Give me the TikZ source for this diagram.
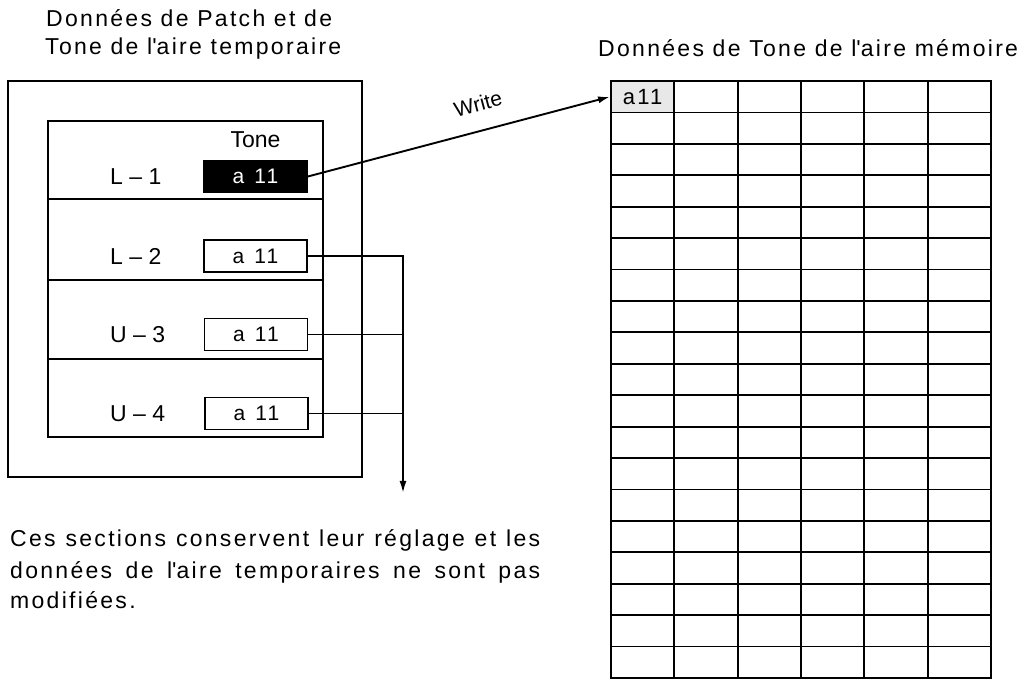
\documentclass[tikz,border=0pt]{standalone}
\usepackage{fontspec}
\setmainfont{Liberation Sans}
\newfontfamily\spfont[LetterSpace=10]{Liberation Sans}
\newfontfamily\plfont{Liberation Sans}
\usetikzlibrary{arrows.meta}
\begin{document}
\begin{tikzpicture}[x=1pt,y=-1pt,
  ttl/.style={font=\spfont\fontsize{23}{26}\selectfont, inner sep=0, anchor=base west},
  lab/.style={font=\plfont\fontsize{23}{26}\selectfont, inner sep=0, anchor=base west},
  frame/.style={draw, line width=1.8pt},
  tbox/.style={draw, line width=1.8pt, minimum width=103pt, minimum height=32pt, inner sep=0, font=\spfont\fontsize{21}{24}\selectfont},
  cell/.style={draw, line width=1.8pt, minimum width=63.33pt, minimum height=31.42pt, inner sep=0, font=\spfont\fontsize{22}{24}\selectfont},
  conn/.style={line width=1.9pt},
  arr/.style={-{Latex[length=12pt,width=7pt]}}
]
\useasboundingbox (0,0) rectangle (1026,684);

% titles
\node[ttl] (t1) at (46,26.5) {Données de Patch et de};
\node[ttl] (t2) at (45,55) {Tone de l\textquotesingle aire temporaire};
\node[ttl] (t3) at (598,56.5) {Données de Tone de l\textquotesingle aire mémoire};

% left frames
\draw[frame] (8,81) rectangle (362,477);
\draw[frame] (48,121) rectangle (323,437);
\draw[frame] (48,199) -- (323,199);
\draw[frame] (48,280) -- (323,280);
\draw[frame] (48,359) -- (323,359);

% labels
\node[lab,anchor=base] (tone) at (255.5,148) {Tone};
\node[lab] (n1) at (110,185) {L – 1};
\node[lab] (n2) at (110,265) {L – 2};
\node[lab] (n3) at (110,343) {U – 3};
\node[lab] (n4) at (110,422) {U – 4};

% tone boxes
\node[tbox, fill=black, text=white] (b1) at (255.5,176.5) {a \hspace{2pt}11};
\node[tbox] (b2) at (255.5,256) {a \hspace{2pt}11};
\node[tbox] (b3) at (256,334.5) {a \hspace{2pt}11};
\node[tbox] (b4) at (256.5,413.5) {a \hspace{2pt}11};

% memory grid
\node[cell, fill=gray!18] (a11) at (642.67,96.71) {a11};
\foreach \i in {1,...,5} \draw[frame] ({611+\i*63.33},81) -- ({611+\i*63.33},678);
\foreach \j in {1,...,18} \draw[frame] (611,{81+\j*31.42}) -- (991,{81+\j*31.42});
\draw[frame] (611,81) rectangle (991,678);

% connectors
\coordinate (tipc) at (403,493);
\draw[conn,arr] (b2.east) -| (tipc);
\draw[conn] (b3.east) -- (b3.east -| tipc);
\draw[conn] (b4.east) -- (b4.east -| tipc);
\draw[conn,arr] (b1.east) -- (a11.west);
\node[font=\plfont\fontsize{21}{22}\selectfont, rotate=15, inner sep=0] (w) at (478,104) {Write};

% note
\node[ttl] (c1) at (10,547) {\makebox[530pt][s]{Ces sections conservent leur réglage et les}};
\node[ttl] (c2) at (10,578) {\makebox[530pt][s]{données de l\textquotesingle aire temporaires ne sont pas}};
\node[ttl] (c3) at (10,608) {modifiées.};
\end{tikzpicture}
\end{document}
